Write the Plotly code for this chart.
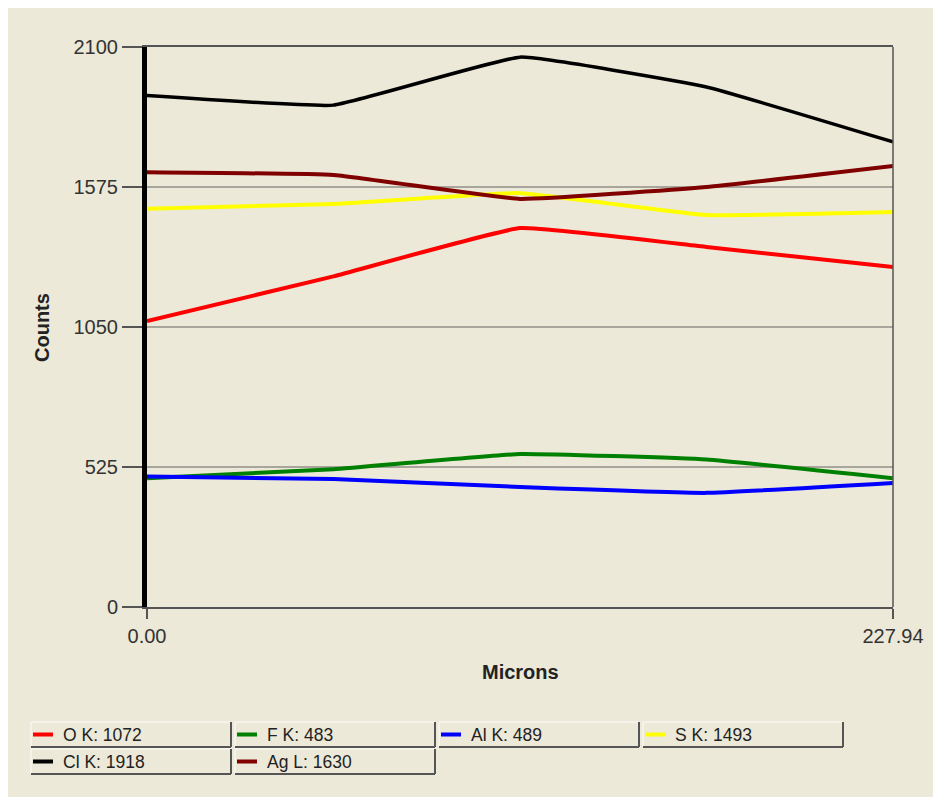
import plotly.graph_objects as go

# ---- data ----
microns = [0.0, 56.985, 113.97, 170.955, 227.94]
series_names = ["O K", "F K", "Al K", "S K", "Cl K", "Ag L"]
series_colors = ["#FF0000", "#008000", "#0000FF", "#FFFF00", "#000000", "#800000"]
o_k = [1072, 1240, 1421, 1350, 1275]
f_k = [483, 517, 574, 553, 483]
al_k = [489, 480, 450, 428, 465]
s_k = [1493, 1511, 1552, 1470, 1481]
cl_k = [1918, 1882, 2062, 1950, 1744]
ag_l = [1630, 1620, 1530, 1575, 1654]
series_values = [o_k, f_k, al_k, s_k, cl_k, ag_l]
y_ticks = [0, 525, 1050, 1575, 2100]
x_tick_vals = [0.0, 227.94]
x_tick_text = ["0.00", "227.94"]

# ---- layout geometry (screen pixels; page body adds an 8px offset) ----
OFF = 8
W, H = 941 - OFF, 803 - OFF
L, R, T, B = 147 - OFF, 893 - OFF, 47 - OFF, 607 - OFF
PW, PH = R - L, B - T
BEIGE = "#ECE9D8"


def px(x):
    return (x - OFF - L) / PW


def py(y):
    return (B - (y - OFF)) / PH


fig = go.Figure()
for name, color, vals in zip(series_names, series_colors, series_values):
    fig.add_trace(go.Scatter(
        x=microns, y=vals, mode="lines", name=name,
        line=dict(color=color, width=3.5 if color == "#000000" else 4,
                  shape="spline", smoothing=0.3),
        showlegend=False, hoverinfo="x+y+name"))

shapes = []
# beige panel behind everything
shapes.append(dict(type="rect", xref="paper", yref="paper", layer="below",
                   x0=px(OFF), x1=px(937), y0=py(797), y1=py(OFF),
                   fillcolor=BEIGE, line=dict(width=0)))
# right border of plot
shapes.append(dict(type="line", xref="paper", yref="paper", layer="above",
                   x0=1, x1=1, y0=0, y1=1, line=dict(color="#555555", width=1.5)))

annotations = []
# axis titles
annotations.append(dict(text="<b>Counts</b>", xref="paper", yref="paper",
                        x=px(42), y=py(327), showarrow=False, textangle=-90,
                        xanchor="center", yanchor="middle",
                        font=dict(family="Liberation Sans", size=20, color="#222222")))
annotations.append(dict(text="<b>Microns</b>", xref="paper", yref="paper",
                        x=px(520), y=py(672), showarrow=False,
                        xanchor="center", yanchor="middle",
                        font=dict(family="Liberation Sans", size=20, color="#222222")))

# custom legend boxes
box_w, box_h = 200, 25
col_x = [31, 235, 439, 643]
row_y = [722, 749]
for i, (name, color, vals) in enumerate(zip(series_names, series_colors, series_values)):
    r, c = divmod(i, 4)
    x0, y0 = col_x[c], row_y[r]
    x1, y1 = x0 + box_w, y0 + box_h
    shapes.append(dict(type="rect", xref="paper", yref="paper",
                       x0=px(x0), x1=px(x1), y0=py(y1), y1=py(y0),
                       fillcolor=BEIGE, line=dict(width=0)))
    # light top/left edges
    shapes.append(dict(type="line", xref="paper", yref="paper",
                       x0=px(x0), x1=px(x1), y0=py(y0), y1=py(y0),
                       line=dict(color="#F7F6EF", width=1.5)))
    shapes.append(dict(type="line", xref="paper", yref="paper",
                       x0=px(x0), x1=px(x0), y0=py(y0), y1=py(y1),
                       line=dict(color="#F7F6EF", width=1.5)))
    # dark bottom/right edges
    shapes.append(dict(type="line", xref="paper", yref="paper",
                       x0=px(x0), x1=px(x1), y0=py(y1), y1=py(y1),
                       line=dict(color="#555555", width=2)))
    shapes.append(dict(type="line", xref="paper", yref="paper",
                       x0=px(x1), x1=px(x1), y0=py(y0), y1=py(y1),
                       line=dict(color="#555555", width=2)))
    ym = (y0 + y1) / 2
    shapes.append(dict(type="line", xref="paper", yref="paper",
                       x0=px(x0 + 2), x1=px(x0 + 22), y0=py(ym), y1=py(ym),
                       line=dict(color=color, width=4)))
    annotations.append(dict(text=f"{name}: {vals[0]}", xref="paper", yref="paper",
                            x=px(x0 + 30), y=py(ym), showarrow=False,
                            xanchor="left", yanchor="middle",
                            font=dict(family="Liberation Sans", size=17.5, color="#222222")))

fig.update_layout(
    width=W, height=H,
    margin=dict(l=L, r=W - R, t=T, b=H - B, pad=0),
    paper_bgcolor="#FFFFFF", plot_bgcolor=BEIGE,
    shapes=shapes, annotations=annotations,
    font=dict(family="Liberation Sans", size=20, color="#333333"),
    xaxis=dict(range=[0, 227.94], tickvals=x_tick_vals, ticktext=x_tick_text,
               showgrid=False, zeroline=False, showline=True, mirror=True,
               linecolor="#555555", linewidth=2, ticks="outside", ticklen=10,
               tickcolor="#555555", tickwidth=1.5,
               tickfont=dict(family="Liberation Sans", size=20, color="#333333")),
    yaxis=dict(range=[0, 2100], tickvals=y_ticks, showgrid=True,
               gridcolor="#A8A69C", gridwidth=1.5, zeroline=False,
               showline=True, linecolor="#000000", linewidth=5,
               ticks="outside", ticklen=20, tickcolor="#555555", tickwidth=1.5,
               tickfont=dict(family="Liberation Sans", size=20, color="#333333")),
)

fig.write_html("out.html")
